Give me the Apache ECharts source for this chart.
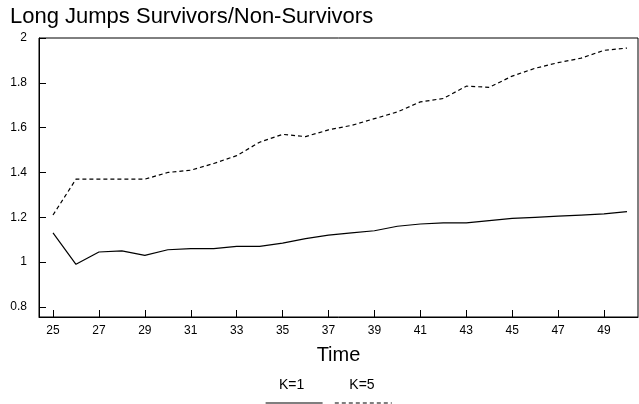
<!DOCTYPE html>
<html>
<head>
<meta charset="utf-8">
<script src="https://cdn.jsdelivr.net/npm/echarts@6/dist/echarts.min.js"></script>
<style>
html,body{margin:0;padding:0;background:#fff;}
#c{width:639px;height:404px;}
</style>
</head>
<body>
<div id="c"></div>
<script>
var titleText = 'Long Jumps Survivors/Non-Survivors';
var time = [25,26,27,28,29,30,31,32,33,34,35,36,37,38,39,40,41,42,43,44,45,46,47,48,49,50];
var k1 = [1.13,0.99,1.045,1.05,1.03,1.055,1.06,1.06,1.07,1.07,1.085,1.105,1.12,1.13,1.14,1.16,1.17,1.175,1.175,1.185,1.195,1.2,1.205,1.21,1.215,1.225];
var k5 = [1.21,1.37,1.37,1.37,1.37,1.40,1.41,1.44,1.475,1.535,1.57,1.56,1.59,1.61,1.64,1.67,1.715,1.73,1.785,1.78,1.83,1.865,1.89,1.91,1.945,1.955];
var xTicks = [25,27,29,31,33,35,37,39,41,43,45,47,49];
var yTicks = [0.8,1,1.2,1.4,1.6,1.8,2];
var seriesNames = ['K=1','K=5'];

function pairs(xs, ys){ return xs.map(function(x,i){ return [x, ys[i]]; }); }

var font = 'Liberation Sans, Arial, sans-serif';
var chart = echarts.init(document.getElementById('c'));
chart.setOption({
  backgroundColor: '#fff',
  animation: false,
  textStyle: { fontFamily: font },
  title: {
    text: titleText, left: 10, top: 6, padding: 0,
    textStyle: { fontSize: 22, fontWeight: 'normal', color: '#000', fontFamily: font }
  },
  grid: { left: 39, right: 1, top: 38, bottom: 87, show: true, borderColor: '#000', borderWidth: 1, backgroundColor: 'transparent' },
  xAxis: {
    type: 'value', min: 24.39, max: 50.48,
    name: 'Time', nameLocation: 'middle', nameGap: 28,
    nameTextStyle: { fontSize: 20, color: '#000', fontFamily: font },
    axisLine: { lineStyle: { color: '#000', width: 1 } },
    axisTick: { inside: true, length: 7, customValues: xTicks, lineStyle: { color: '#000' } },
    axisLabel: { customValues: xTicks, color: '#000', fontSize: 12, margin: 8, fontFamily: font },
    splitLine: { show: false }
  },
  yAxis: {
    type: 'value', min: 0.755, max: 2,
    axisLine: { show: true, lineStyle: { color: '#000', width: 1 } },
    axisTick: { show: true, inside: true, length: 7, customValues: yTicks, lineStyle: { color: '#000' } },
    axisLabel: { customValues: yTicks, color: '#000', fontSize: 12, margin: 12, fontFamily: font },
    splitLine: { show: false }
  },
  legend: [
    {
      data: seriesNames, icon: 'none', itemWidth: 0, itemGap: 40,
      left: 269, top: 373,
      textStyle: { color: '#000', fontSize: 14, fontFamily: font }
    },
    {
      data: seriesNames, itemWidth: 57, itemHeight: 12, itemGap: 11,
      left: 260, top: 392,
      formatter: function(){ return ''; },
      itemStyle: { opacity: 0 },
      lineStyle: { width: 1.2 }
    }
  ],
  series: [
    { name: seriesNames[0], type: 'line', data: pairs(time, k1), symbol: 'none',
      lineStyle: { color: '#000', width: 1.2, type: 'solid' }, itemStyle: { color: '#000' } },
    { name: seriesNames[1], type: 'line', data: pairs(time, k5), symbol: 'none',
      lineStyle: { color: '#000', width: 1.2, type: [4, 3] }, itemStyle: { color: '#000' } }
  ]
});
</script>
</body>
</html>
